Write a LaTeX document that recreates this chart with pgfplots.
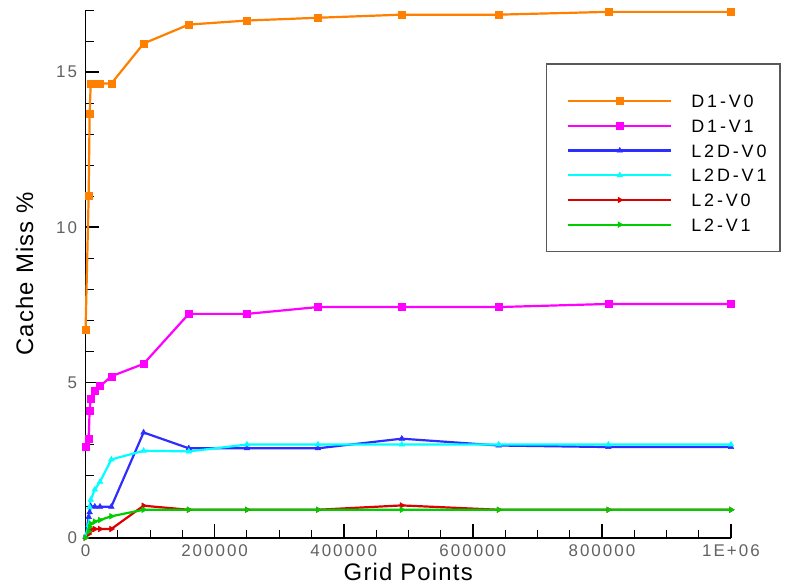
\documentclass[border=0pt]{standalone}
\usepackage{fontspec}
\setmainfont{Liberation Sans}
\newfontfamily\tickfont[LetterSpace=12]{Liberation Sans}
\newfontfamily\legfont[LetterSpace=16]{Liberation Sans}
\newfontfamily\labfont[LetterSpace=5]{Liberation Sans}
\usepackage{pgfplots}
\usepackage{pgfplotstable}
\pgfplotsset{compat=1.18}

\definecolor{cOrange}{RGB}{255,128,0}
\definecolor{cMagenta}{RGB}{255,0,255}
\definecolor{cBlue}{RGB}{45,45,255}
\definecolor{cCyan}{RGB}{0,255,255}
\definecolor{cRed}{RGB}{220,0,0}
\definecolor{cGreen}{RGB}{0,205,0}

% cache miss rates (%) against number of grid points
\pgfplotstableread{
x       d1v0  d1v1  l2dv0 l2dv1 l2v0 l2v1
100     6.70  2.92  0.02  0.05  0.00 0.00
4900    11.00 3.19  0.67  0.40  0.12 0.20
6400    13.65 4.10  0.82  0.99  0.20 0.34
8100    14.63 4.48  1.01  1.22  0.27 0.45
14400   14.63 4.73  1.00  1.55  0.28 0.52
22500   14.63 4.88  1.00  1.80  0.28 0.57
40000   14.63 5.20  1.00  2.52  0.28 0.69
90000   15.92 5.60  3.39  2.80  1.03 0.90
160000  16.53 7.21  2.88  2.78  0.90 0.90
250000  16.66 7.21  2.88  3.00  0.90 0.90
360000  16.75 7.43  2.88  3.00  0.90 0.90
490000  16.85 7.43  3.19  3.00  1.04 0.90
640000  16.85 7.43  2.97  3.00  0.90 0.90
810000  16.94 7.53  2.92  3.00  0.90 0.90
1000000 16.94 7.53  2.92  3.00  0.90 0.90
}\misstable

\begin{document}
\begin{tikzpicture}
\begin{axis}[
  at={(85.5bp,49.3bp)}, anchor=south west,
  scale only axis, width=645.5bp, height=527.7bp,
  xmin=0, xmax=1000000, ymin=0, ymax=17,
  axis lines*=left,
  axis line style={line width=1.6bp, -},
  tick align=inside,
  major tick length=14bp, minor tick length=8bp,
  major tick style={line width=1.6bp, black},
  minor tick style={line width=0.9bp, black},
  xtick={0,200000,400000,600000,800000,1000000},
  xticklabels={0,200000,400000,600000,800000,1E+06},
  minor xtick={50000,100000,150000,250000,300000,350000,450000,500000,550000,650000,700000,750000,850000,900000,950000},
  ytick={0,5,10,15}, yticklabels={0,5,10,15},
  minor ytick={1,2,3,4,6,7,8,9,11,12,13,14,16,17},
  scaled x ticks=false,
  ticklabel style={font=\tickfont\fontsize{17}{17}\selectfont, text=black!62},
  xticklabel style={yshift=-3bp},
  yticklabel style={xshift=-5bp},
  xlabel={Grid Points}, ylabel={Cache Miss \%},
  label style={font=\labfont\fontsize{24}{24}\selectfont},
  xlabel style={at={(axis description cs:0.5,-0.0802)}, anchor=base},
  ylabel style={at={(axis description cs:-0.0813,0.5)}, anchor=base},
  clip=false,
  every axis plot/.append style={line width=2.2bp},
  legend cell align=left,
  legend style={draw=none, fill=none,
    at={(axis description cs:0.7459,0.8399)}, anchor=north west,
    inner sep=0pt, row sep=11.7bp, column sep=19bp,
    font=\legfont\fontsize{18}{18}\selectfont,
    nodes={inner sep=0pt, text height=13bp, text depth=0pt}},
  legend image code/.code={\draw[mark repeat=2,mark phase=2] plot coordinates {(0bp,0bp) (51.5bp,0bp) (103bp,0bp)};},
]
\addplot[cOrange, mark=square*, mark size=3.5bp, mark options={line width=0.5bp}] table[x=x, y=d1v0] {\misstable};
\addlegendentry{D1-V0}
\addplot[cMagenta, mark=square*, mark size=3.5bp, mark options={line width=0.5bp}] table[x=x, y=d1v1] {\misstable};
\addlegendentry{D1-V1}
\addplot[cBlue, mark=triangle*, mark size=3.2bp, mark options={line width=0.5bp}] table[x=x, y=l2dv0] {\misstable};
\addlegendentry{L2D-V0}
\addplot[cCyan, mark=triangle*, mark size=3.2bp, mark options={line width=0.5bp}] table[x=x, y=l2dv1] {\misstable};
\addlegendentry{L2D-V1}
\addplot[cRed, mark=triangle*, mark size=3.2bp, mark options={rotate=-90, line width=0.5bp}] table[x=x, y=l2v0] {\misstable};
\addlegendentry{L2-V0}
\addplot[cGreen, mark=triangle*, mark size=3.2bp, mark options={rotate=-90, line width=0.5bp}] table[x=x, y=l2v1] {\misstable};
\addlegendentry{L2-V1}
% legend frame
\draw[line width=1.3bp, black!65] (axis description cs:0.7145,0.8977) rectangle (axis description cs:1.0759,0.5420);
\end{axis}
\pgfresetboundingbox
\path[use as bounding box] (0,0) rectangle (791bp,587bp);
\end{tikzpicture}
\end{document}
